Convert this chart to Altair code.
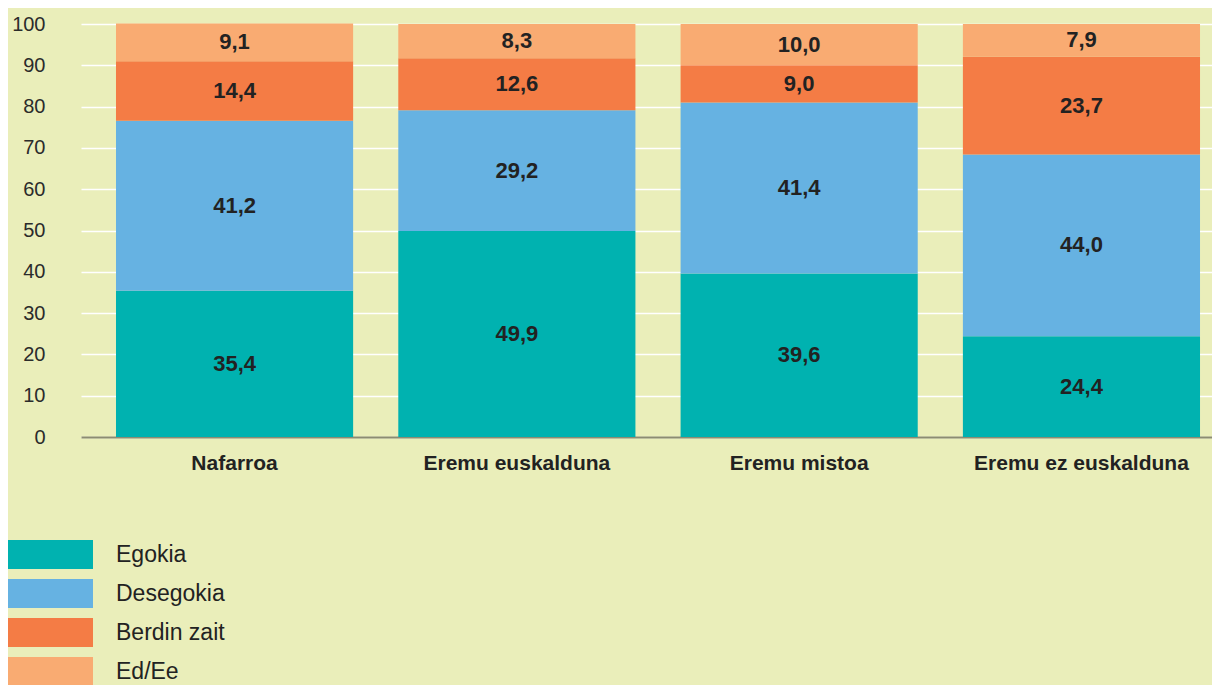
import altair as alt
import pandas as pd

categories = ["Nafarroa", "Eremu euskalduna", "Eremu mistoa", "Eremu ez euskalduna"]
series = ["Egokia", "Desegokia", "Berdin zait", "Ed/Ee"]
egokia = [35.4, 49.9, 39.6, 24.4]
desegokia = [41.2, 29.2, 41.4, 44.0]
berdin = [14.4, 12.6, 9.0, 23.7]
eded = [9.1, 8.3, 10.0, 7.9]
colors = ["#00B2B0", "#66B2E2", "#F47C45", "#F9AB72"]
y_ticks = list(range(0, 101, 10))

rows = []
for si, (name, vals) in enumerate(zip(series, [egokia, desegokia, berdin, eded])):
    for c, v in zip(categories, vals):
        rows.append({"cat": c, "serie": name, "value": v, "ord": si})
df = pd.DataFrame(rows)

FONT = "Liberation Sans"
BG = "#EAEEBA"

base = alt.Chart(df)

x_enc = alt.X(
    "cat:N",
    sort=categories,
    title=None,
    scale=alt.Scale(paddingInner=0.16, paddingOuter=0.0832, align=0.745),
    axis=alt.Axis(
        labelAngle=0, labelFontSize=21, labelFontWeight="bold", labelColor="#222222",
        labelFont=FONT, ticks=False, labelPadding=15, domain=True, labelLimit=0,
        domainColor="#8C8C72", domainWidth=2, grid=False,
    ),
)

bars = base.mark_bar().encode(
    x=x_enc,
    y=alt.Y(
        "value:Q",
        stack="zero",
        title=None,
        scale=alt.Scale(domain=[0, 100], nice=False),
        axis=alt.Axis(
            values=y_ticks, labelFontSize=20, labelColor="#2B2B2B", labelFont=FONT,
            ticks=False, labelPadding=36, domain=False, grid=True,
            gridColor="#FFFFFF", gridWidth=1.3,
        ),
    ),
    color=alt.Color(
        "serie:N",
        scale=alt.Scale(domain=series, range=colors),
        legend=alt.Legend(
            title=None, orient="none", legendX=-73, legendY=516, direction="vertical",
            symbolType="M-1,-0.341H1V0.341H-1Z", symbolSize=7225, symbolStrokeWidth=0,
            symbolOpacity=1, clipHeight=29, rowPadding=10, labelOffset=23, labelLimit=0,
            labelFontSize=23, labelFont=FONT, labelColor="#222222", padding=0,
        ),
    ),
    order=alt.Order("ord:Q", sort="ascending"),
)

labels = base.transform_stack(
    stack="value", groupby=["cat"], as_=["y0", "y1"], sort=[alt.SortField("ord", order="ascending")]
).transform_calculate(
    mid="(datum.y0 + datum.y1) / 2",
    lab="replace(format(datum.value, '.1f'), '.', ',')",
).mark_text(
    font=FONT, fontSize=22, fontWeight="bold", color="#222222", baseline="middle"
).encode(
    x=alt.X("cat:N", sort=categories),
    y=alt.Y("mid:Q"),
    text="lab:N",
)

chart = alt.layer(bars, labels).properties(
    width=1131, height=413,
    autosize=alt.AutoSizeParams(type="none"),
    padding={"left": 73, "top": 16, "right": 0, "bottom": 248},
    background=BG,
).configure_view(stroke=None)

chart.save("out.html", embed_options={"renderer": "svg", "actions": False})
